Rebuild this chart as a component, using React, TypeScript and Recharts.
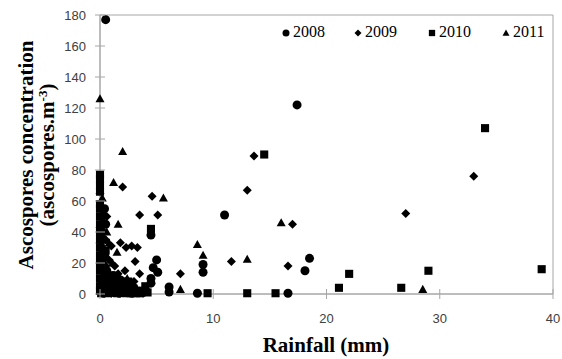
import React from "react";
import {
  ScatterChart,
  Scatter,
  XAxis,
  YAxis,
  ReferenceArea,
  Label,
} from "recharts";

type Pt = { x: number; y: number };

const xTicks = [0, 10, 20, 30, 40];
const yTicks = [0, 20, 40, 60, 80, 100, 120, 140, 160, 180];
const seriesNames = ["2008", "2009", "2010", "2011"];

const data2008: Pt[] = [
  { x: 0.5, y: 177 }, { x: 17.4, y: 122 }, { x: 11, y: 51 }, { x: 18.5, y: 23 },
  { x: 18.1, y: 15 }, { x: 16.6, y: 0.5 }, { x: 8.6, y: 0.5 }, { x: 9.1, y: 19 },
  { x: 9.1, y: 14 }, { x: 5, y: 22 }, { x: 4.7, y: 17 }, { x: 5.1, y: 14 },
  { x: 4.5, y: 10 }, { x: 4.5, y: 7 }, { x: 6.1, y: 4.5 }, { x: 6.1, y: 1.3 },
  { x: 4.5, y: 38 }, { x: 0.2, y: 2 }, { x: 0.5, y: 5 }, { x: 1, y: 1 },
  { x: 1.5, y: 3 }, { x: 2, y: 2 }, { x: 2.5, y: 1 }, { x: 3, y: 4 },
  { x: 0.3, y: 10 }, { x: 0.8, y: 8 }, { x: 1.2, y: 12 }, { x: 0.1, y: 20 },
  { x: 0.4, y: 25 }, { x: 2.2, y: 6 }, { x: 3.5, y: 2 }, { x: 0.6, y: 15 },
  { x: 1.8, y: 9 }, { x: 0.2, y: 40 }, { x: 0.1, y: 30 }, { x: 2.8, y: 0.5 },
  { x: 3.8, y: 1 }, { x: 4, y: 3 }, { x: 0.3, y: 0.5 }, { x: 0.7, y: 1.5 },
  { x: 1.2, y: 3 }, { x: 1.7, y: 0.5 }, { x: 2.4, y: 3 }, { x: 3.3, y: 1 },
  { x: 0.9, y: 5 }, { x: 1.4, y: 7 }, { x: 0.5, y: 45 }, { x: 0.2, y: 50 },
  { x: 0.4, y: 55 },
];

const data2009: Pt[] = [
  { x: 33, y: 76 }, { x: 27, y: 52 }, { x: 13.6, y: 89 }, { x: 13, y: 67 },
  { x: 17, y: 45 }, { x: 16.6, y: 18 }, { x: 11.6, y: 21 }, { x: 7.1, y: 13 },
  { x: 2, y: 69 }, { x: 4.6, y: 63 }, { x: 3.5, y: 51 }, { x: 5.1, y: 51 },
  { x: 3.1, y: 21 }, { x: 3.5, y: 13 }, { x: 1, y: 31 }, { x: 1.8, y: 33 },
  { x: 2.3, y: 30 }, { x: 2.8, y: 31 }, { x: 3.3, y: 30 }, { x: 0.3, y: 45 },
  { x: 0.5, y: 35 }, { x: 0.2, y: 55 }, { x: 0.8, y: 22 }, { x: 1.3, y: 18 },
  { x: 0.4, y: 12 }, { x: 1.5, y: 6 }, { x: 2.5, y: 4 }, { x: 0.7, y: 3 },
  { x: 3, y: 8 }, { x: 1, y: 0.5 }, { x: 2, y: 1 }, { x: 0.1, y: 8 },
  { x: 3.8, y: 0.5 }, { x: 0.3, y: 22 }, { x: 0.5, y: 18 }, { x: 1.6, y: 13 },
  { x: 2.2, y: 15 }, { x: 1.1, y: 10 }, { x: 0.2, y: 28 }, { x: 0.6, y: 50 },
];

const data2010: Pt[] = [
  { x: 34, y: 107 }, { x: 14.5, y: 90 }, { x: 39, y: 16 }, { x: 29, y: 15 },
  { x: 22, y: 13 }, { x: 21.1, y: 4 }, { x: 26.6, y: 4 }, { x: 15.5, y: 0.5 },
  { x: 13, y: 0.5 }, { x: 9.5, y: 0.5 }, { x: 0, y: 77 }, { x: 0, y: 74 },
  { x: 0, y: 70 }, { x: 0, y: 66 }, { x: 0, y: 58 }, { x: 0, y: 55 },
  { x: 0, y: 50 }, { x: 4.5, y: 42 }, { x: 0.2, y: 35 }, { x: 0.5, y: 28 },
  { x: 1.5, y: 10 }, { x: 2, y: 5 }, { x: 2.5, y: 8 }, { x: 3, y: 2 },
  { x: 1, y: 4 }, { x: 0.3, y: 18 }, { x: 1.8, y: 1 }, { x: 3.5, y: 0.5 },
  { x: 4.2, y: 1 }, { x: 0.7, y: 0.5 }, { x: 2.7, y: 0.5 }, { x: 1.2, y: 7 },
  { x: 0.1, y: 0.5 }, { x: 4, y: 5 }, { x: 2.2, y: 3 }, { x: 0, y: 45 },
  { x: 0, y: 40 }, { x: 0, y: 35 }, { x: 0, y: 30 }, { x: 0, y: 25 },
  { x: 0, y: 20 }, { x: 0, y: 15 }, { x: 0, y: 10 }, { x: 0, y: 5 },
  { x: 0, y: 2 }, { x: 0.5, y: 2 }, { x: 1, y: 2 }, { x: 1.5, y: 0.5 },
  { x: 2.3, y: 0.5 }, { x: 3.2, y: 0.5 }, { x: 0.3, y: 6 }, { x: 0.8, y: 12 },
  { x: 1.3, y: 4 }, { x: 2, y: 8 }, { x: 1.7, y: 5 },
];

const data2011: Pt[] = [
  { x: 0, y: 126 }, { x: 2, y: 92 }, { x: 1.2, y: 72 }, { x: 5.6, y: 62 },
  { x: 16, y: 46 }, { x: 8.6, y: 32 }, { x: 9.1, y: 25 }, { x: 13, y: 22.5 },
  { x: 7.1, y: 3 }, { x: 28.5, y: 3 }, { x: 0, y: 67 }, { x: 0.4, y: 51 },
  { x: 1.6, y: 45 }, { x: 1.5, y: 27 }, { x: 0.2, y: 62 }, { x: 0.6, y: 40 },
  { x: 0.3, y: 30 }, { x: 1.1, y: 20 }, { x: 0.5, y: 15 }, { x: 2.4, y: 10 },
  { x: 0.2, y: 5 }, { x: 1.6, y: 2 }, { x: 3.2, y: 3 }, { x: 0.9, y: 9 },
  { x: 0.1, y: 2 }, { x: 0.3, y: 3 }, { x: 0.7, y: 6 }, { x: 1.3, y: 1 },
  { x: 2.1, y: 0.5 }, { x: 0, y: 35 }, { x: 0, y: 45 }, { x: 0.8, y: 33 },
];

const AXIS = "#a6a6a6";
const TICK_FONT = "'Liberation Sans', Arial, sans-serif";
const SERIF = "'Liberation Serif', 'Times New Roman', serif";

const markerPath = (kind: string, cx: number, cy: number, s: number) => {
  if (kind === "diamond")
    return `M${cx},${cy - s}L${cx + s},${cy}L${cx},${cy + s}L${cx - s},${cy}Z`;
  if (kind === "square")
    return `M${cx - s * 0.9},${cy - s * 0.9}h${s * 1.8}v${s * 1.8}h${-s * 1.8}Z`;
  if (kind === "triangle")
    return `M${cx},${cy - s}L${cx + s},${cy + s * 0.8}L${cx - s},${cy + s * 0.8}Z`;
  return "";
};

const makeShape = (kind: string) => (props: any) => {
  const { cx, cy } = props;
  if (cx == null || cy == null) return <g />;
  if (kind === "circle") return <circle cx={cx} cy={cy} r={4.5} fill="#000" />;
  return <path d={markerPath(kind, cx, cy, 4.5)} fill="#000" />;
};

const XTick = (props: any) => {
  const { x, y, payload } = props;
  return (
    <g>
      <line x1={x} x2={x} y1={y - 5} y2={y + 5} stroke={AXIS} />
      <text
        x={x}
        y={y + 29}
        textAnchor="middle"
        fontFamily={TICK_FONT}
        fontSize={13}
        fill="#404040"
      >
        {payload.value}
      </text>
    </g>
  );
};

const YTick = (props: any) => {
  const { x, y, payload } = props;
  return (
    <g>
      <line x1={x - 5} x2={x + 5} y1={y} y2={y} stroke={AXIS} />
      <text
        x={x - 14}
        y={y + 5}
        textAnchor="end"
        fontFamily={TICK_FONT}
        fontSize={13}
        fill="#404040"
      >
        {payload.value}
      </text>
    </g>
  );
};

const YTitle = () => (
  <g>
    <text
      transform="translate(33,155) rotate(-90)"
      textAnchor="middle"
      fontFamily={SERIF}
      fontWeight="bold"
      fontSize={21}
      fill="#000"
    >
      Ascospores concentration
    </text>
    <text
      transform="translate(54,155) rotate(-90)"
      textAnchor="middle"
      fontFamily={SERIF}
      fontWeight="bold"
      fontSize={21}
      fill="#000"
    >
      (ascospores.m
      <tspan dy={-7} fontSize={13}>-3</tspan>
      <tspan dy={7}>)</tspan>
    </text>
  </g>
);

const XTitle = () => (
  <text
    x={326}
    y={352}
    textAnchor="middle"
    fontFamily={SERIF}
    fontWeight="bold"
    fontSize={21}
    fill="#000"
  >
    Rainfall (mm)
  </text>
);

const legendKinds = ["circle", "diamond", "square", "triangle"];
const legendX = [286, 358, 432, 506];

const LegendMark = ({ kind }: { kind: string }) => {
  const s = 3.5;
  return (
    <svg width={10} height={10} style={{ display: "inline-block", verticalAlign: "middle" }}>
      {kind === "circle" ? (
        <circle cx={5} cy={5} r={3.5} fill="#000" />
      ) : (
        <path d={markerPath(kind, 5, 5, s)} fill="#000" />
      )}
    </svg>
  );
};

export default function App() {
  return (
    <div style={{ position: "absolute", left: 0, top: 0, width: 562, height: 359, background: "#fff" }}>
      <ScatterChart
        width={562}
        height={359}
        margin={{ top: 15, right: 9, bottom: 25, left: 60 }}
      >
        <ReferenceArea x1={0} x2={40} y1={0} y2={180} fill="none" stroke={AXIS} ifOverflow="visible" />
        <XAxis
          type="number"
          dataKey="x"
          domain={[0, 40]}
          ticks={xTicks}
          tick={<XTick />}
          tickLine={false}
          tickSize={0}
          tickMargin={0}
          axisLine={{ stroke: AXIS }}
          height={40}
          interval={0}
        >
          <Label content={<XTitle />} />
        </XAxis>
        <YAxis
          type="number"
          dataKey="y"
          domain={[0, 180]}
          ticks={yTicks}
          tick={<YTick />}
          tickLine={false}
          tickSize={0}
          tickMargin={0}
          axisLine={{ stroke: AXIS }}
          width={40}
          interval={0}
        >
          <Label content={<YTitle />} />
        </YAxis>
        <Scatter name={seriesNames[0]} data={data2008} shape={makeShape("circle")} isAnimationActive={false} />
        <Scatter name={seriesNames[1]} data={data2009} shape={makeShape("diamond")} isAnimationActive={false} />
        <Scatter name={seriesNames[2]} data={data2010} shape={makeShape("square")} isAnimationActive={false} />
        <Scatter name={seriesNames[3]} data={data2011} shape={makeShape("triangle")} isAnimationActive={false} />
      </ScatterChart>
      {seriesNames.map((n, i) => (
        <div
          key={n}
          style={{
            position: "absolute",
            left: legendX[i] - 5,
            top: 22,
            fontFamily: SERIF,
            fontSize: 16,
            lineHeight: "20px",
            color: "#000",
            whiteSpace: "nowrap",
          }}
        >
          <LegendMark kind={legendKinds[i]} />
          <span style={{ marginLeft: 2 }}>{n}</span>
        </div>
      ))}
    </div>
  );
}
